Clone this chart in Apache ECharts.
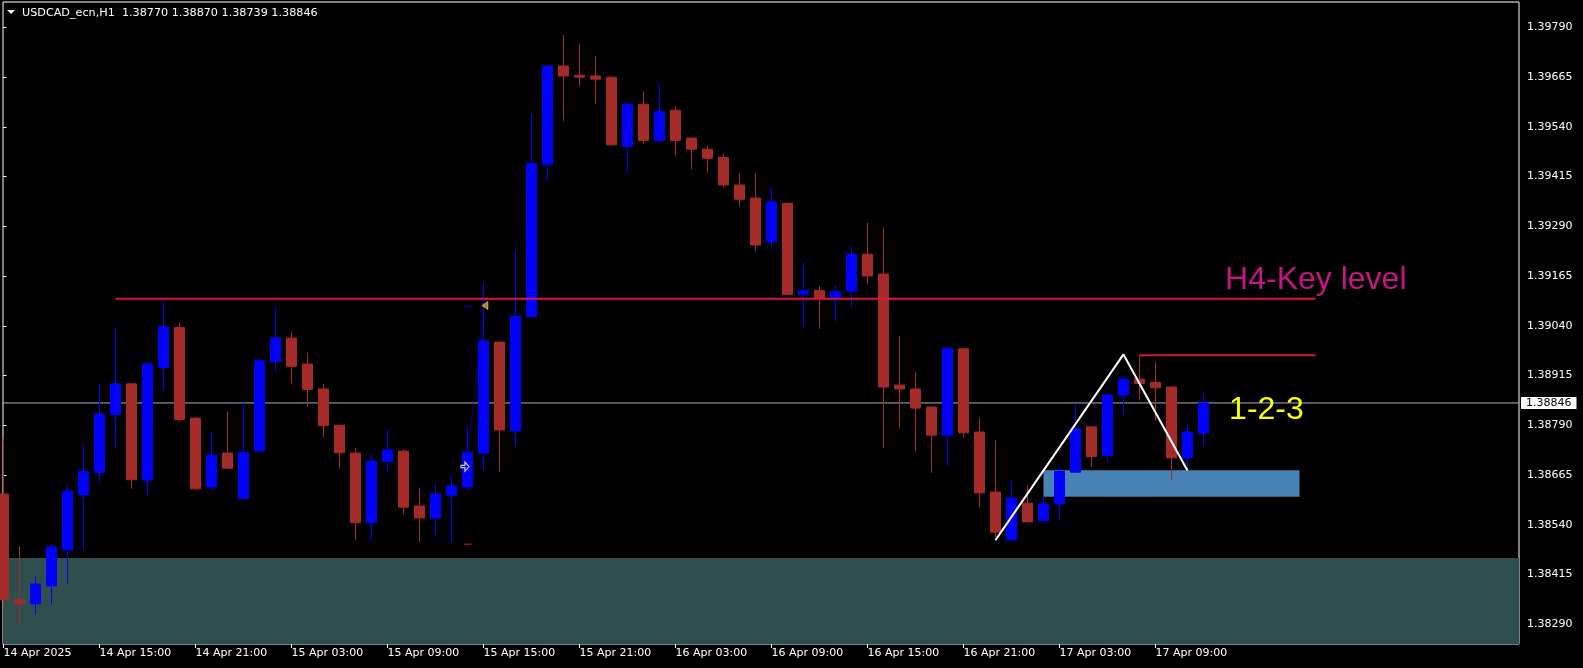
<!DOCTYPE html>
<html><head><meta charset="utf-8">
<script src="https://cdn.jsdelivr.net/npm/echarts@6/dist/echarts.min.js"></script>
<style>html,body{margin:0;padding:0;background:#000;}#c{width:1583px;height:668px;}</style>
</head><body><div id="c"></div>
<script>
// ---- data (USDCAD_ecn H1, 14 Apr 09:00 .. 17 Apr 12:00) ----
const opens = [1.38617,1.38351,1.38341,1.38386,1.38477,1.38615,1.38671,1.38817,1.38894,1.38652,
1.38935,1.39036,1.38808,1.38635,1.38720,1.38606,1.38726,1.38950,1.39009,1.38944,
1.38881,1.38790,1.38720,1.38545,1.38699,1.38725,1.38587,1.38557,1.38614,1.38635,
1.38720,1.38999,1.38776,1.39063,1.39446,1.39693,1.39670,1.39668,1.39665,1.39491,
1.39597,1.39506,1.39582,1.39512,1.39484,1.39463,1.39394,1.39361,1.39251,1.39348,
1.39119,1.39129,1.39110,1.39127,1.39220,1.39170,1.38891,1.38881,1.38836,1.38765,
1.38982,1.38773,1.38622,1.38502,1.38594,1.38550,1.38592,1.38672,1.38786,1.38714,
1.38866,1.38906,1.38898,1.38886,1.38708,1.38770];
const closes = [1.38352,1.38341,1.38391,1.38484,1.38624,1.38674,1.38818,1.38894,1.38653,1.38944,
1.39038,1.38804,1.38630,1.38715,1.38682,1.38722,1.38952,1.39009,1.38938,1.38880,
1.38789,1.38721,1.38545,1.38700,1.38728,1.38584,1.38557,1.38617,1.38637,1.38722,
1.39002,1.38778,1.39064,1.39448,1.39693,1.39668,1.39665,1.39660,1.39495,1.39597,
1.39506,1.39579,1.39506,1.39484,1.39461,1.39394,1.39358,1.39243,1.39351,1.39119,
1.39128,1.39110,1.39126,1.39220,1.39165,1.38886,1.38881,1.38833,1.38765,1.38984,
1.38771,1.38620,1.38521,1.38607,1.38547,1.38592,1.38674,1.38782,1.38711,1.38866,
1.38906,1.38895,1.38884,1.38708,1.38773,1.38846];
const lows = [1.38333,1.38285,1.38314,1.38341,1.38390,1.38478,1.38641,1.38733,1.38630,1.38615,
1.38879,1.38799,1.38627,1.38624,1.38681,1.38605,1.38725,1.38926,1.38896,1.38836,
1.38760,1.38681,1.38501,1.38501,1.38674,1.38566,1.38497,1.38512,1.38497,1.38624,
1.38678,1.38674,1.38738,1.39063,1.39404,1.39554,1.39642,1.39597,1.39494,1.39427,
1.39498,1.39502,1.39467,1.39433,1.39425,1.39388,1.39340,1.39228,1.39233,1.39118,
1.39036,1.39032,1.39052,1.39087,1.39144,1.38732,1.38782,1.38725,1.38670,1.38687,
1.38760,1.38584,1.38507,1.38502,1.38547,1.38548,1.38552,1.38672,1.38685,1.38699,
1.38817,1.38852,1.38802,1.38651,1.38681,1.38739];
const highs = [1.38758,1.38486,1.38411,1.38491,1.38642,1.38743,1.38894,1.39034,1.38895,1.38951,
1.39105,1.39047,1.38810,1.38774,1.38825,1.38846,1.38956,1.39084,1.39024,1.38971,
1.38894,1.38791,1.38732,1.38715,1.38780,1.38730,1.38633,1.38644,1.38663,1.38788,
1.39148,1.38999,1.39229,1.39572,1.39693,1.39771,1.39748,1.39718,1.39666,1.39604,
1.39629,1.39648,1.39592,1.39512,1.39494,1.39474,1.39424,1.39424,1.39389,1.39348,
1.39199,1.39140,1.39142,1.39238,1.39299,1.39288,1.39014,1.38924,1.38837,1.38984,
1.38984,1.38810,1.38753,1.38650,1.38640,1.38610,1.38687,1.38841,1.38786,1.38871,
1.38916,1.38966,1.38948,1.38888,1.38789,1.38870];

const xTickPos = [0,6,12,18,24,30,36,42,48,54,60,66,72];
const xTickLabels = ['14 Apr 2025','14 Apr 15:00','14 Apr 21:00','15 Apr 03:00','15 Apr 09:00','15 Apr 15:00',
  '15 Apr 21:00','16 Apr 03:00','16 Apr 09:00','16 Apr 15:00','16 Apr 21:00','17 Apr 03:00','17 Apr 09:00'];
const yTicks = [1.38290,1.38415,1.38540,1.38665,1.38790,1.38915,1.39040,1.39165,1.39290,1.39415,1.39540,1.39665,1.39790];

const keyLevel = 1.39108;             // H4 key level
const keyLevelSpan = [7, 82];
const pointTwoLevel = 1.38966;        // short red line
const pointTwoSpan = [71, 82];
const zigzagBars = [62, 70, 74];
const zigzagPrices = [1.38501, 1.38968, 1.38676];
const supportZone = [1.38456, 1.38240]; // teal zone
const entryZoneBars = [65, 81];
const entryZone = [1.38677, 1.38610];
const tradeOpen = [28.84, 1.38686];
const tradeClose = [30.09, 1.39091];
const tradeTP = 1.39089, tradeSL = 1.38491;
const currentPrice = 1.38846;

const FONT = 'DejaVu Sans';
const xMin = -0.03, xMax = 94.72;
const yMin = 1.38240, yMax = 1.39854;
const candles = opens.map((o, i) => [i, o, closes[i], lows[i], highs[i]]);
const last = candles.length - 1;

const chart = echarts.init(document.getElementById('c'), null, {renderer: 'canvas', width: 1583, height: 668});
const lineSeries = (name, data, color, width, type, z) => ({
  name, type: 'line', data, symbol: 'none', silent: true, z: z || 4,
  lineStyle: {color, width, type: type || 'solid'}, animation: false
});

const priceLine = lineSeries('bid', [[xMin, currentPrice], [xMax, currentPrice]], '#A8AEBA', 1, 'solid', 1);
priceLine.clip = false;
priceLine.endLabel = {show: true, distance: 2, formatter: () => currentPrice.toFixed(5),
  backgroundColor: '#fff', color: '#000', fontFamily: FONT, fontSize: 11, lineHeight: 12, padding: [0, 5, 0, 5]};

chart.setOption({
  animation: false,
  backgroundColor: '#000',
  grid: {left: 3, top: 2, right: 64, bottom: 24, show: true, borderColor: '#ffffff', borderWidth: 1, backgroundColor: '#000'},
  xAxis: {
    type: 'value', min: xMin, max: xMax, splitLine: {show: false},
    axisLine: {show: false},
    axisTick: {show: true, customValues: xTickPos, length: 4, lineStyle: {color: '#fff'}},
    axisLabel: {customValues: xTickPos, formatter: v => xTickLabels[xTickPos.indexOf(Math.round(v))] || '',
      align: 'left', color: '#fff', fontFamily: FONT, fontSize: 11, margin: 4}
  },
  yAxis: {
    type: 'value', position: 'right', min: yMin, max: yMax, splitLine: {show: false},
    axisLine: {show: false},
    axisTick: {show: true, customValues: yTicks, length: 3, lineStyle: {color: '#fff'}},
    axisLabel: {customValues: yTicks, formatter: v => v.toFixed(5), color: '#fff', fontFamily: FONT, fontSize: 11, margin: 8}
  },
  series: [
    {
      name: 'USDCAD', type: 'candlestick', data: candles, barWidth: 10, z: 2,
      itemStyle: {color: '#0000FF', color0: '#A52A2A', borderColor: '#0000FF', borderColor0: '#A52A2A', borderWidth: 1},
      markArea: {
        silent: true, z: 1,
        data: [
          [{yAxis: supportZone[0], itemStyle: {color: '#2F4F4F'}}, {yAxis: supportZone[1]}],
          [{xAxis: entryZoneBars[0], yAxis: entryZone[0], itemStyle: {color: '#4682B4'}}, {xAxis: entryZoneBars[1], yAxis: entryZone[1]}]
        ]
      }
    },
    priceLine,
    lineSeries('key', keyLevelSpan.map(x => [x, keyLevel]), '#DC143C', 2),
    lineSeries('p2', pointTwoSpan.map(x => [x, pointTwoLevel]), '#DC143C', 2),
    lineSeries('zigzag', zigzagBars.map((x, k) => [x, zigzagPrices[k]]), '#ffffff', 2, 'solid', 5),
    lineSeries('trade', [[tradeOpen[0] + 0.2, tradeOpen[1] + 0.00034], [tradeClose[0] - 0.09, tradeClose[1] - 0.00003]], '#0000FF', 1, 'dotted'),
    lineSeries('tp', [[tradeOpen[0] - 0.06, tradeTP], [tradeOpen[0] + 0.4, tradeTP]], '#0000FF', 1),
    lineSeries('sl', [[tradeOpen[0] - 0.06, tradeSL], [tradeOpen[0] + 0.4, tradeSL]], '#DC143C', 1),
    {
      name: 'arrows', type: 'scatter', silent: true, z: 6,
      data: [
        {value: tradeOpen, symbol: 'path://M0,3 L4,3 L4,0 L8,4 L4,8 L4,5 L0,5 Z', symbolSize: [8, 9],
          itemStyle: {color: 'rgba(0,0,0,0)', borderColor: '#fff', borderWidth: 1.2}},
        {value: tradeClose, symbol: 'triangle', symbolRotate: 90, symbolSize: [8, 6],
          itemStyle: {color: '#DAA520', borderColor: '#FFE9A0', borderWidth: 0.6}}
      ]
    }
  ]
});

function px(x, y) { return chart.convertToPixel({gridIndex: 0}, [x, y]); }
const h4 = px(76.35, 1.39155);
const t123 = px(76.6, 1.38828);
const lastBar = candles[last];
chart.setOption({
  graphic: [
    {type: 'polygon', shape: {points: [[7, 10], [15, 10], [11, 14]]}, style: {fill: '#fff'}, z: 10},
    {type: 'text', x: 22, y: 13, z: 10, style: {text: 'USDCAD_ecn,H1  ' + [lastBar[1], lastBar[4], lastBar[3], lastBar[2]].map(v => v.toFixed(5)).join(' '),
      fill: '#fff', font: '11.2px "DejaVu Sans"', verticalAlign: 'middle', align: 'left'}},
    {type: 'text', x: h4[0], y: h4[1], z: 10, style: {text: 'H4-Key level', fill: '#C71585', font: '32px "Liberation Sans"', verticalAlign: 'middle', align: 'left'}},
    {type: 'text', x: t123[0], y: t123[1], z: 10, style: {text: '1-2-3', fill: '#FFFF00', font: '32px "Liberation Sans"', verticalAlign: 'middle', align: 'left'}}
  ]
});
</script></body></html>
